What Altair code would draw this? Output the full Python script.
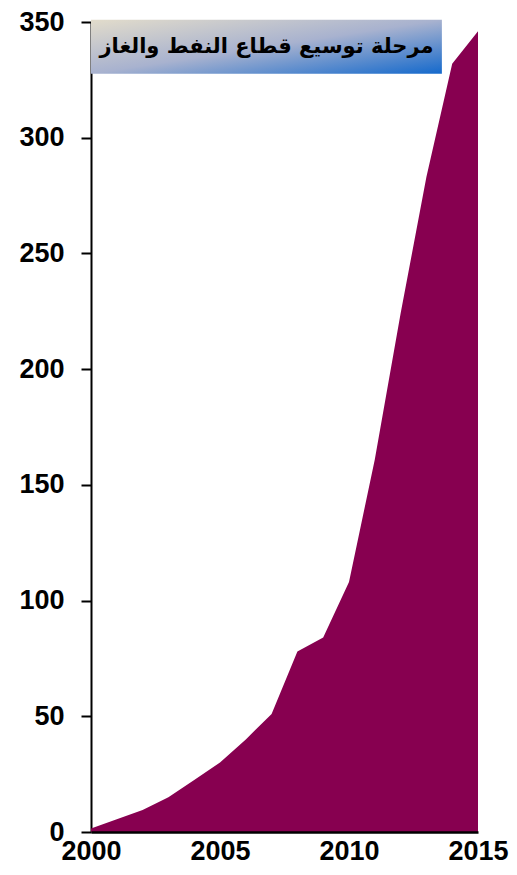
import altair as alt
import pandas as pd

years = list(range(2000, 2016))
values = [1.5, 5.5, 9.5, 15, 22.5, 30, 40, 51, 78, 84, 108, 161, 224, 283, 332, 346]

title_text = ["مرحلة توسيع قطاع النفط والغاز"]
box_x = [2000.0]
box_x2 = [2013.6]
box_y = [351.0]
box_y2 = [327.6]
text_x = [2006.8]
text_y = [339.4]

df = pd.DataFrame({"year": years, "value": values})
box_df = pd.DataFrame({"x": box_x, "x2": box_x2, "y": box_y, "y2": box_y2})
text_df = pd.DataFrame({"x": text_x, "y": text_y, "t": title_text})

xscale = alt.Scale(domain=[2000, 2015], nice=False, zero=False)
yscale = alt.Scale(domain=[0, 350], nice=False)

area = alt.Chart(df).mark_area(color="#870050", opacity=1).encode(
    x=alt.X("year:Q", scale=xscale, title=None,
            axis=alt.Axis(values=[2000, 2005, 2010, 2015], format="d", grid=False,
                          ticks=False, domainColor="black", domainWidth=2.5,
                          labelFont="Liberation Sans", labelFontWeight="bold",
                          labelFontSize=27, labelColor="black", labelPadding=6,
                          labelFlush=False, zindex=1)),
    y=alt.Y("value:Q", scale=yscale, title=None,
            axis=alt.Axis(values=[0, 50, 100, 150, 200, 250, 300, 350], grid=False,
                          tickSize=10, tickWidth=2, tickColor="black",
                          domainColor="black", domainWidth=2,
                          labelFont="Liberation Sans", labelFontWeight="bold",
                          labelFontSize=27, labelColor="black", labelPadding=17,
                          labelFlush=False)),
)

box = alt.Chart(box_df).mark_rect(
    color={"gradient": "linear", "x1": 0, "y1": 0, "x2": 1, "y2": 1,
           "stops": [{"offset": 0, "color": "#e2dccb"},
                     {"offset": 0.5, "color": "#a8b2cf"},
                     {"offset": 1, "color": "#1469cc"}]}
).encode(
    x=alt.X("x:Q", scale=xscale), x2="x2:Q",
    y=alt.Y("y:Q", scale=yscale), y2="y2:Q",
)

text = alt.Chart(text_df).mark_text(
    font="DejaVu Sans", fontWeight="bold", fontSize=21, color="black",
    align="center", baseline="middle"
).encode(
    x=alt.X("x:Q", scale=xscale), y=alt.Y("y:Q", scale=yscale), text="t:N"
)

chart = alt.layer(area, box, text).properties(
    width=387, height=810,
    autosize=alt.AutoSizeParams(type="none"),
    padding={"left": 83, "top": 14, "right": 31, "bottom": 34},
).configure_view(stroke=None)

chart.save("out.html", embed_options={"renderer": "svg", "actions": False})
